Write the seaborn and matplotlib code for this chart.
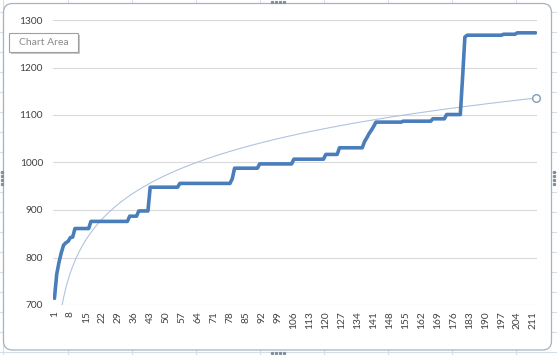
import numpy as np
import pandas as pd
import matplotlib.pyplot as plt
import seaborn as sns
from matplotlib.patches import FancyBboxPatch, Rectangle

step_levels = [714, 765, 790, 810, 826, 831, 834, 842, 843,
               861, 876, 887, 898, 948, 956, 966, 988, 997, 1007, 1017, 1031,
               1044, 1052, 1061, 1068, 1076,
               1085, 1087, 1092, 1101, 1180, 1264, 1268, 1270, 1273]
step_lengths = [1, 1, 1, 1, 1, 1, 1, 1, 1,
                7, 17, 4, 5, 13, 23, 1, 11, 15, 14, 6, 11,
                1, 1, 1, 1, 1,
                12, 13, 6, 7, 1, 1, 16, 6, 9]
y_ticks = [700, 800, 900, 1000, 1100, 1200, 1300]

values = np.repeat(step_levels, step_lengths)
cats = np.arange(1, len(values) + 1)
df = pd.DataFrame({'cat': cats, 'value': values})

# logarithmic trendline (like Excel's)
a, b = np.polyfit(np.log(df['cat']), df['value'], 1)
df['trend'] = a * np.log(df['cat']) + b

sns.set_style('white')
plt.rcParams['font.family'] = ['Lato', 'DejaVu Sans']

W, H = 557, 355
fig = plt.figure(figsize=(W / 100, H / 100), dpi=100)

# spreadsheet behind the chart
bg = fig.add_axes([0, 0, 1, 1])
bg.set_xlim(0, W)
bg.set_ylim(H, 0)
bg.axis('off')
for gx in [3, 67.5, 131.5, 196, 260, 324, 388, 452, 516]:
    bg.axvline(gx, color='#D4DDE8', lw=0.8, zorder=1)
for gy in range(12, H, 20):
    bg.axhline(gy, color='#D4DDE8', lw=0.8, zorder=1)
bg.add_patch(FancyBboxPatch((3.5, 3.5), 548, 346.5, boxstyle='round,pad=0,rounding_size=9',
                            facecolor='white', edgecolor='#A3B3C4', lw=0.9, zorder=5))

# plot area
x0, x1, y0, y1 = 53.3, 536.7, 20, 305
ax = fig.add_axes([x0 / W, 1 - y1 / H, (x1 - x0) / W, (y1 - y0) / H])
ax.set_facecolor('none')
sns.lineplot(data=df, x='cat', y='value', ax=ax, color='#4A7EBB', linewidth=2.6, zorder=3)
sns.lineplot(data=df, x='cat', y='trend', ax=ax, color='#AFC4E0', linewidth=0.8, zorder=2)
ax.plot(df['cat'].iloc[-1], df['trend'].iloc[-1], 'o', ms=5.5, mfc='white',
        mec='#7F9DB9', mew=1.0, zorder=4, clip_on=False)

ax.set_xlim(0.5, len(values) + 0.5)
ax.set_ylim(700, 1300)
ax.set_yticks(y_ticks)
ax.set_xticks(cats[::7])
ax.set_xticklabels([str(c) for c in cats[::7]], rotation=90, va='top', ha='center')
ax.grid(axis='y', color='#D9D9D9', lw=0.8)
ax.set_axisbelow(True)
for s in ax.spines.values():
    s.set_visible(False)
ax.tick_params(axis='y', length=0, pad=7.5, labelsize=7.3, labelcolor='#404040')
ax.tick_params(axis='x', length=0, pad=4.5, labelsize=7.3, labelcolor='#404040')
ax.set_xlabel('')
ax.set_ylabel('')

# "Chart Area" tooltip and selection handles
top = fig.add_axes([0, 0, 1, 1], facecolor='none')
top.set_xlim(0, W)
top.set_ylim(H, 0)
top.axis('off')
top.add_patch(Rectangle((11, 34.5), 69, 19.5, facecolor='#C8C8C8', edgecolor='none'))
top.add_patch(Rectangle((9, 32.5), 69, 19.5, facecolor='white', edgecolor='#A0A0A0', lw=0.8))
top.text(43.5, 42.5, 'Chart Area', fontsize=7.5, color='#8A8A8A', ha='center', va='center')
for k in range(4):
    top.plot([272 + 4 * k] * 2, [1.5, 352.5], ls='none', marker='s', ms=1.3, color='#7F8FA0')
    top.plot([1.5, 553.5], [172 + 4 * k] * 2, ls='none', marker='s', ms=1.3, color='#7F8FA0')

fig.savefig('out.png', dpi=100)
